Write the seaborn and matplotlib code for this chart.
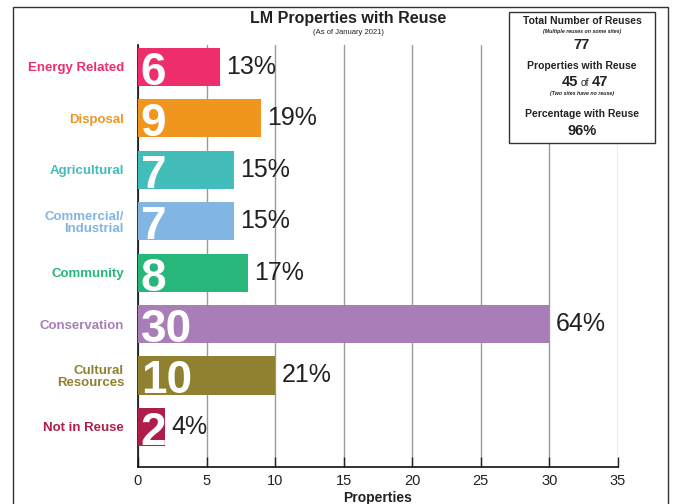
import numpy as np
import pandas as pd
import seaborn as sns
import matplotlib.pyplot as plt
from matplotlib.patches import Rectangle

# data
categories = ["Energy Related", "Disposal", "Agricultural", "Commercial/\nIndustrial",
              "Community", "Conservation", "Cultural\nResources", "Not in Reuse"]
properties = [6, 9, 7, 7, 8, 30, 10, 2]
percent_labels = ["13%", "19%", "15%", "15%", "17%", "64%", "21%", "4%"]
bar_colors = ["#EE2D6B", "#F0961F", "#42BDB9", "#82B6E2",
              "#27B77A", "#A97DB8", "#908131", "#AE1E48"]
x_ticks = [0, 5, 10, 15, 20, 25, 30, 35]

df = pd.DataFrame({"category": categories, "properties": properties})

sns.set_style("white")
plt.rcParams['font.family'] = ['Liberation Sans', 'DejaVu Sans']

fig = plt.figure(figsize=(6.75, 5.04), dpi=100)
ax = fig.add_axes([0.2044, 0.0734, 0.7112, 0.8376])

sns.barplot(data=df, x="properties", y="category", hue="category",
            palette=bar_colors, legend=False, width=0.74, saturation=1,
            linewidth=0, ax=ax, zorder=3)

ax.set_xlim(0, 35)
ax.set_ylim(7.78, -0.43)
ax.set_xticks(x_ticks)
ax.set_xticklabels([str(t) for t in x_ticks], fontsize=10.5, color="#222222")
ax.grid(axis="x", color="#9a9a9a", linewidth=1, zorder=0)
ax.set_axisbelow(True)
ax.tick_params(axis="x", direction="in", length=7, width=1, color="#222222", pad=5, bottom=True)
ax.tick_params(axis="y", length=0, pad=10)
ax.set_xlabel("Properties", fontsize=10, fontweight="bold", color="#222222", labelpad=2)
ax.set_ylabel("")

for spine in ["top", "right"]:
    ax.spines[spine].set_visible(False)
for spine in ["left", "bottom"]:
    ax.spines[spine].set_color("#111111")
    ax.spines[spine].set_linewidth(1.2)

for lbl, c in zip(ax.get_yticklabels(), bar_colors):
    lbl.set_color(c)
    lbl.set_fontweight("bold")
    lbl.set_fontsize(9.5)
    lbl.set_linespacing(1.0)

# big white counts inside bars + percent at bar end
for i, (v, p) in enumerate(zip(properties, percent_labels)):
    ax.text(0.2, i + 0.35, str(v), color="white", fontsize=33, fontweight="bold",
            ha="left", va="baseline", zorder=5)
    ax.text(v + 0.45, i, p, color="#222222", fontsize=18, ha="left", va="center", zorder=5)

# titles
fig.text(0.516, 1 - 18 / 504, "LM Properties with Reuse", ha="center", va="center",
         fontsize=11.5, fontweight="bold", color="#222222")
fig.text(0.516, 1 - 32 / 504, "(As of January 2021)", ha="center", va="center",
         fontsize=5.5, color="#222222")

# summary box
fig.patches.append(Rectangle((509 / 675, 1 - 143 / 504), 146 / 675, 131 / 504,
                             transform=fig.transFigure, facecolor="white",
                             edgecolor="#333333", linewidth=1, zorder=10))
bx = 582 / 675
def ytop(py):
    return 1 - py / 504
fig.text(bx, ytop(21), "Total Number of Reuses", ha="center", va="center",
         fontsize=7.5, fontweight="bold", color="#222222", zorder=11)
fig.text(bx, ytop(31), "(Multiple reuses on some sites)", ha="center", va="center",
         fontsize=3.8, style="italic", fontweight="bold", color="#222222", zorder=11)
fig.text(bx, ytop(45), "77", ha="center", va="center",
         fontsize=10.5, fontweight="bold", color="#222222", zorder=11)
fig.text(bx, ytop(66), "Properties with Reuse", ha="center", va="center",
         fontsize=7.5, fontweight="bold", color="#222222", zorder=11)
fig.text(578 / 675, ytop(82), "45", ha="right", va="center",
         fontsize=10.5, fontweight="bold", color="#222222", zorder=11)
fig.text(585 / 675, ytop(83), "of", ha="center", va="center",
         fontsize=7.5, color="#222222", zorder=11)
fig.text(592 / 675, ytop(82), "47", ha="left", va="center",
         fontsize=10.5, fontweight="bold", color="#222222", zorder=11)
fig.text(bx, ytop(94), "(Two sites have no reuse)", ha="center", va="center",
         fontsize=3.8, style="italic", fontweight="bold", color="#222222", zorder=11)
fig.text(bx, ytop(114), "Percentage with Reuse", ha="center", va="center",
         fontsize=7.5, fontweight="bold", color="#222222", zorder=11)
fig.text(bx, ytop(131), "96%", ha="center", va="center",
         fontsize=10.5, fontweight="bold", color="#222222", zorder=11)

# outer frame (open at the bottom like the reference)
fig.patches.append(Rectangle((13 / 675, -0.1), 655 / 675, 1.1 - 7 / 504,
                             transform=fig.transFigure, fill=False,
                             edgecolor="#333333", linewidth=1, zorder=0))

fig.savefig("out.png", dpi=100)
